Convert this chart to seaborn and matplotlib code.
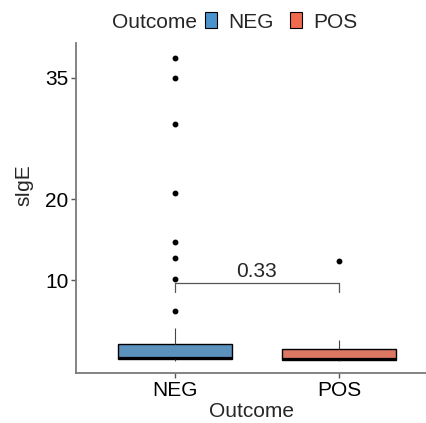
import numpy as np
import pandas as pd
import matplotlib
matplotlib.use("Agg")
import matplotlib.pyplot as plt
import seaborn as sns
from matplotlib.patches import Patch

# sIgE values per outcome group
neg_values = [0.05, 0.06, 0.08, 0.1, 0.1, 0.12, 0.14, 0.16, 0.18, 0.22,
              0.25, 0.26, 0.27, 0.28, 0.29, 0.3, 0.31, 0.32, 0.33, 0.34,
              0.36, 0.4, 0.5, 0.65, 0.8, 1.0, 1.25, 1.5, 1.8, 2.05,
              2.3, 4.1, 6.2, 10.1, 12.7, 14.7, 20.7, 29.3, 34.9, 37.4]
pos_values = [0.02, 0.04, 0.06, 0.08, 0.1, 0.11, 0.12, 0.14, 0.16, 0.18,
              0.2, 0.4, 0.7, 1.0, 1.45, 1.65, 1.9, 2.2, 2.6, 12.4]
groups = ["NEG", "POS"]
colors = {"NEG": "#4B93CD", "POS": "#EF6A4F"}
y_ticks = [10, 20, 35]
p_label = "0.33"
bracket_y = 9.6
bracket_tip = 8.5

df = pd.DataFrame({
    "Outcome": ["NEG"] * len(neg_values) + ["POS"] * len(pos_values),
    "sIgE": neg_values + pos_values,
})

sns.set_style("white")
plt.rcParams["font.family"] = ["Liberation Sans", "DejaVu Sans"]
plt.rcParams["font.size"] = 15

fig = plt.figure(figsize=(4.27, 4.23), dpi=100)
W, H = 427, 423
ax = fig.add_axes([76 / W, 1 - 373 / H, (427 - 76) / W, (373 - 43) / H])

sns.boxplot(data=df, x="Outcome", y="sIgE", hue="Outcome", order=groups,
            hue_order=groups, palette=colors, width=0.7, linewidth=1.0,
            linecolor="black", dodge=False, legend=False, ax=ax,
            whiskerprops=dict(color="#444444", linewidth=0.8),
            capprops=dict(linewidth=0),
            medianprops=dict(color="black", linewidth=1.6),
            flierprops=dict(marker="o", markersize=3.2,
                            markerfacecolor="black", markeredgecolor="black"))

# comparison bracket
ax.plot([0, 0, 1, 1], [bracket_tip, bracket_y, bracket_y, bracket_tip],
        color="#555555", linewidth=0.9)
ax.text(0.5, bracket_y + 0.3, p_label, ha="center", va="bottom", fontsize=15)

ax.set_xlim(-0.604, 1.537)
ax.set_ylim(-1.48, 39.26)
ax.set_yticks(y_ticks)
ax.set_ylabel("sIgE", fontsize=15)
ax.yaxis.set_label_coords(-0.122, 0.57)
ax.set_xlabel("Outcome", fontsize=15, labelpad=2)
ax.tick_params(axis="both", length=3.5, width=1, color="#555555",
               labelsize=15, pad=2, labelcolor="black")
ax.tick_params(axis="x", bottom=True)
ax.tick_params(axis="y", left=True)
sns.despine(ax=ax)
for side in ["left", "bottom"]:
    ax.spines[side].set_color("#7a7a7a")
    ax.spines[side].set_linewidth(1.3)

# legend on top
fig.text(155 / W, 1 - 22 / H, "Outcome", ha="center", va="center", fontsize=15)
handles = [Patch(facecolor=colors[g], edgecolor="black", linewidth=0.8, label=g)
           for g in groups]
fig.legend(handles=handles, ncol=2, frameon=False, loc="center left",
           bbox_to_anchor=(205 / W, 1 - 22 / H), handlelength=0.6,
           handleheight=0.8, handletextpad=0.5, columnspacing=0.8,
           fontsize=15, borderaxespad=0, borderpad=0)

fig.savefig("out.png", dpi=100)
